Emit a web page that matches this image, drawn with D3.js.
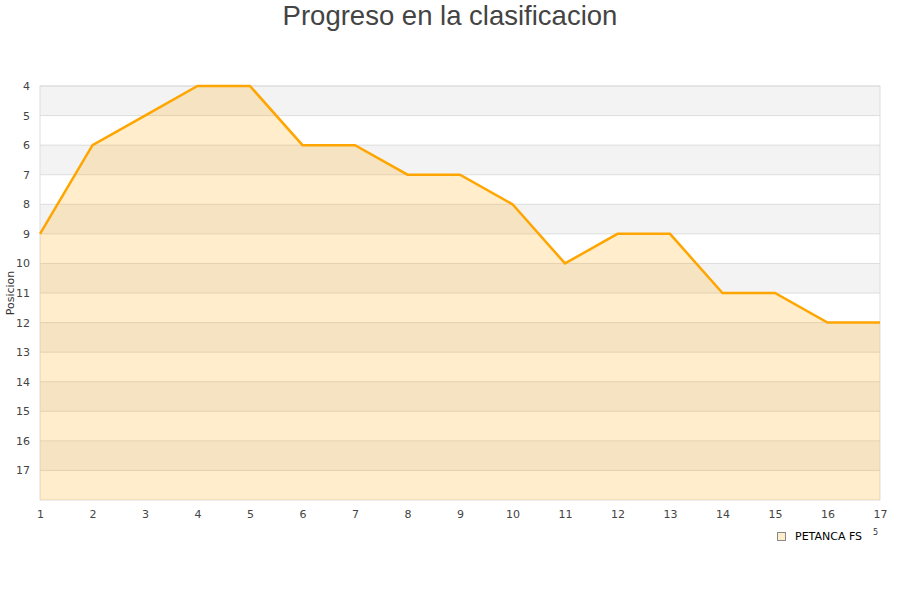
<!DOCTYPE html>
<html>
<head>
<meta charset="utf-8">
<script src="https://cdn.jsdelivr.net/npm/d3@7"></script>
<style>
  body { margin: 0; background: #fff; }
  svg { display: block; }
</style>
</head>
<body>
<svg id="chart" width="900" height="600"></svg>
<script>
// chart data
const jornadas = [1, 2, 3, 4, 5, 6, 7, 8, 9, 10, 11, 12, 13, 14, 15, 16, 17];
const posiciones = [9, 6, 5, 4, 4, 6, 6, 7, 7, 8, 10, 9, 9, 11, 11, 12, 12];
const yTicks = [4, 5, 6, 7, 8, 9, 10, 11, 12, 13, 14, 15, 16, 17];
const teamName = 'PETANCA FS';

const margin = { top: 86, right: 20, bottom: 100, left: 40 };
const width = 900 - margin.left - margin.right;
const height = 600 - margin.top - margin.bottom;

const svg = d3.select('#chart');

svg.append('text')
    .attr('x', 450)
    .attr('y', 25)
    .attr('text-anchor', 'middle')
    .style('font-family', '"Liberation Sans", Arial, sans-serif')
    .style('font-size', '27.5px')
    .attr('fill', '#444')
    .text('Progreso en la clasificacion');

const g = svg.append('g')
    .attr('transform', `translate(${margin.left},${margin.top})`);

const x = d3.scaleLinear().domain([1, 17]).range([0, width]);
const y = d3.scaleLinear().domain([4, 18]).range([0, height]);

// alternating bands
yTicks.forEach((t, i) => {
    g.append('rect')
        .attr('x', 0)
        .attr('y', y(t))
        .attr('width', width)
        .attr('height', y(t + 1) - y(t))
        .attr('fill', i % 2 === 0 ? '#f3f3f3' : '#ffffff');
});

// grid lines
g.selectAll('.grid')
    .data(yTicks)
    .enter().append('line')
    .attr('x1', 0)
    .attr('x2', width)
    .attr('y1', d => y(d))
    .attr('y2', d => y(d))
    .attr('stroke', '#dddddd')
    .attr('stroke-width', 1);

// frame
g.append('rect')
    .attr('width', width)
    .attr('height', height)
    .attr('fill', 'none')
    .attr('stroke', '#dddddd');

const pts = jornadas.map((j, i) => ({ j, p: posiciones[i] }));

const area = d3.area()
    .x(d => x(d.j))
    .y0(height)
    .y1(d => y(d.p));

g.append('path')
    .datum(pts)
    .attr('fill', 'rgba(255,165,0,0.2)')
    .attr('d', area);

const line = d3.line()
    .x(d => x(d.j))
    .y(d => y(d.p));

g.append('path')
    .datum(pts)
    .attr('fill', 'none')
    .attr('stroke', '#ffa500')
    .attr('stroke-width', 2.5)
    .attr('d', line);

// axes
const yAxis = g.append('g')
    .call(d3.axisLeft(y).tickValues(yTicks).tickSize(0).tickPadding(10));
yAxis.select('.domain').remove();
yAxis.selectAll('text')
    .style('font-family', '"DejaVu Sans", sans-serif')
    .style('font-size', '11px')
    .attr('fill', '#444');

const xAxis = g.append('g')
    .attr('transform', `translate(0,${height})`)
    .call(d3.axisBottom(x).tickValues(jornadas).tickFormat(d3.format('d')).tickSize(0).tickPadding(10));
xAxis.select('.domain').remove();
xAxis.selectAll('text')
    .style('font-family', '"DejaVu Sans", sans-serif')
    .style('font-size', '11px')
    .attr('fill', '#444');

svg.append('text')
    .attr('transform', `translate(14,${margin.top + y(11)}) rotate(-90)`)
    .attr('text-anchor', 'middle')
    .style('font-family', '"DejaVu Sans", sans-serif')
    .style('font-size', '11px')
    .attr('fill', '#333')
    .text('Posicion');

// legend
svg.append('rect')
    .attr('x', 777.5)
    .attr('y', 532.5)
    .attr('width', 8)
    .attr('height', 8)
    .attr('fill', '#ffeecc')
    .attr('stroke', '#888');

svg.append('text')
    .attr('x', 795)
    .attr('y', 540)
    .style('font-family', '"DejaVu Sans", sans-serif')
    .style('font-size', '11px')
    .attr('fill', '#000')
    .text(teamName);

svg.append('text')
    .attr('x', 873)
    .attr('y', 535)
    .style('font-family', '"DejaVu Sans", sans-serif')
    .style('font-size', '8px')
    .attr('fill', '#333')
    .text('5');
</script>
</body>
</html>
